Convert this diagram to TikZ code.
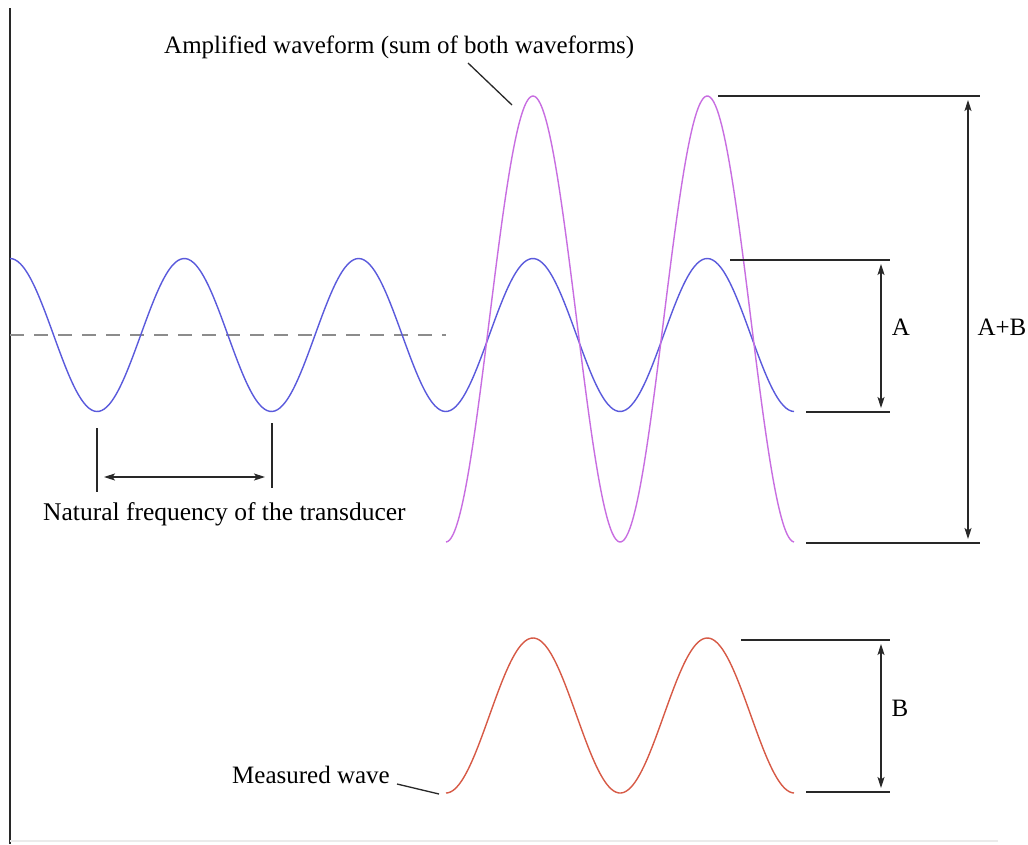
\documentclass[tikz,border=0pt]{standalone}
\usepackage{fontspec}
\setmainfont{Liberation Serif}
\usetikzlibrary{arrows.meta}
\definecolor{wblue}{RGB}{90,90,220}
\definecolor{wmag}{RGB}{200,110,225}
\definecolor{wred}{RGB}{215,90,70}
\definecolor{ink}{RGB}{40,40,40}
\tikzset{
  guide/.style={draw=ink, line width=1.3pt},
  dim/.style={draw=ink, line width=1.2pt, {Stealth[length=11pt,width=7pt,inset=2.5pt]}-{Stealth[length=11pt,width=7pt,inset=2.5pt]}},
  wave/.style={line width=1.4pt},
  lbl/.style={font=\fontsize{25}{30}\selectfont, text=black, inner sep=0pt, anchor=base},
}
\begin{document}
\begin{tikzpicture}[x=1pt,y=-1pt]
\useasboundingbox (0,0) rectangle (1028,844);
\fill[white] (0,0) rectangle (1028,844);
% frame lines
\coordinate (axT) at (10,8);
\coordinate (axB) at (10,844);
\draw[draw=ink, line width=1.3pt] (axT) -- (axB);
\coordinate (btL) at (10,841);
\coordinate (btR) at (998,841);
\draw[draw=black!8, line width=2pt] (btL) -- (btR);
% dashed centre line
\coordinate (dL) at (10,335);
\coordinate (dR) at (446,335);
\draw[draw=black!45, line width=1.2pt, dash pattern=on 14pt off 10pt] (dL) -- (dR);
% waves
\draw[wave, wblue] plot[domain=10:794, samples=300, smooth] (\x, {335-76.5*cos(((\x-10)/174.3)*360)});
\draw[wave, wmag] plot[domain=446:794, samples=200, smooth] (\x, {319-223*cos(((\x-533)/174.3)*360)});
\draw[wave, wred] plot[domain=446:794, samples=200, smooth] (\x, {715.5-77.5*cos(((\x-533)/174.3)*360)});
% guide lines
\coordinate (t1) at (718,96);  \coordinate (t2) at (980,96);
\coordinate (a1) at (730,260); \coordinate (a2) at (890,260);
\coordinate (a3) at (806,412); \coordinate (a4) at (890,412);
\coordinate (s1) at (806,543); \coordinate (s2) at (980,543);
\coordinate (b1) at (741,640); \coordinate (b2) at (890,640);
\coordinate (b3) at (806,792); \coordinate (b4) at (890,792);
\draw[guide] (t1) -- (t2);
\draw[guide] (a1) -- (a2);
\draw[guide] (a3) -- (a4);
\draw[guide] (s1) -- (s2);
\draw[guide] (b1) -- (b2);
\draw[guide] (b3) -- (b4);
% dimension arrows
\coordinate (aT) at (881,264); \coordinate (aB) at (881,408);
\coordinate (sT) at (968,100);  \coordinate (sB) at (968,539);
\coordinate (bT) at (881,644); \coordinate (bB) at (881,788);
\draw[dim] (aT) -- (aB);
\draw[dim] (sT) -- (sB);
\draw[dim] (bT) -- (bB);
\node[lbl] (labA) at (901,335) {A};
\node[lbl] (labAB) at (1002,335) {A+B};
\node[lbl] (labB) at (900,716) {B};
% natural frequency
\coordinate (n1t) at (97,428); \coordinate (n1b) at (97,492);
\coordinate (n2t) at (272,423); \coordinate (n2b) at (272,488);
\draw[guide] (n1t) -- (n1b);
\draw[guide] (n2t) -- (n2b);
\coordinate (nL) at (104,477); \coordinate (nR) at (265,477);
\draw[dim] (nL) -- (nR);
\node[lbl, anchor=base west, font=\fontsize{25.5}{30}\selectfont] (labN) at (43,520) {Natural frequency of the transducer};
% amplified label
\node[lbl, anchor=base west] (labAmp) at (164,53) {Amplified waveform (sum of both waveforms)};
\coordinate (ampL1) at (468,63); \coordinate (ampL2) at (512,105);
\draw[guide] (ampL1) -- (ampL2);
% measured wave label
\node[lbl, anchor=base east] (labM) at (390,783) {Measured wave};
\coordinate (mL1) at (397,784); \coordinate (mL2) at (439,794);
\draw[guide] (mL1) -- (mL2);
\end{tikzpicture}
\end{document}
